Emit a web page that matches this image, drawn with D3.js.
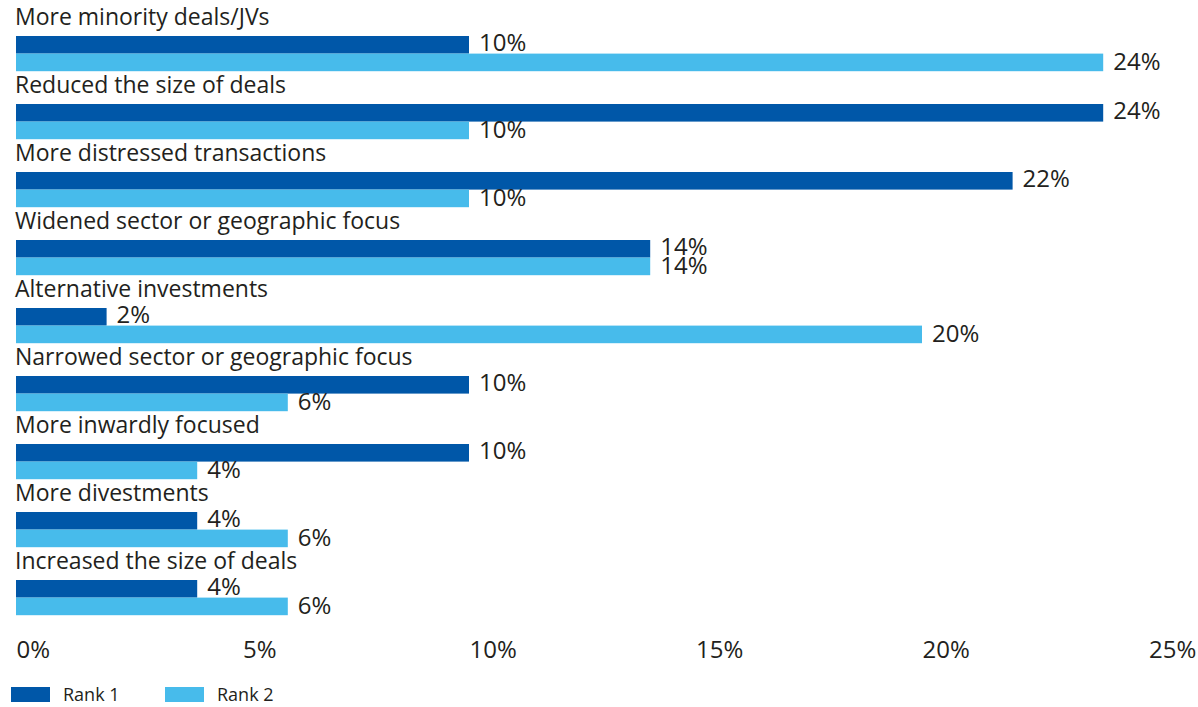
<!DOCTYPE html>
<html>
<head>
<meta charset="utf-8">
<script src="https://cdn.jsdelivr.net/npm/d3@7"></script>
<style>
  html, body { margin: 0; padding: 0; background: #ffffff; }
  svg text { font-family: "Open Sans", "Noto Sans", sans-serif; fill: #231f20; }
</style>
</head>
<body>
<svg id="chart" width="1198" height="707"></svg>
<script>
const categories = [
  "More minority deals/JVs",
  "Reduced the size of deals",
  "More distressed transactions",
  "Widened sector or geographic focus",
  "Alternative investments",
  "Narrowed sector or geographic focus",
  "More inwardly focused",
  "More divestments",
  "Increased the size of deals"
];
const rank1 = [10, 24, 22, 14, 2, 10, 10, 4, 4];
const rank2 = [24, 10, 10, 14, 20, 6, 4, 6, 6];
const seriesNames = ["Rank 1", "Rank 2"];
const tickValues = [0, 5, 10, 15, 20, 25];

const colors = ["#0057a8", "#47bbeb"];
const svg = d3.select("#chart");

const x = d3.scaleLinear().domain([0, 25]).range([16, 1148.5]);
const yGroup = d3.scaleBand().domain(categories).range([36, 36 + 68 * categories.length]).paddingInner(0).paddingOuter(0);
const barH = 17.6;

const rows = categories.map((c, i) => ({ cat: c, vals: [rank1[i], rank2[i]] }));

const g = svg.selectAll("g.grp").data(rows).enter().append("g").attr("class", "grp")
  .attr("transform", d => `translate(0,${yGroup(d.cat)})`);

g.append("text")
  .attr("x", 15)
  .attr("y", -11)
  .attr("font-size", 23)
  .text(d => d.cat);

g.selectAll("rect").data(d => d.vals).enter().append("rect")
  .attr("x", x(0))
  .attr("y", (v, j) => j * barH)
  .attr("width", v => x(v) - x(0))
  .attr("height", barH)
  .attr("fill", (v, j) => colors[j]);

g.selectAll("text.val").data(d => d.vals).enter().append("text")
  .attr("class", "val")
  .attr("x", v => x(v) + 10)
  .attr("y", (v, j) => (j + 1) * barH - (j === 0 ? 2.5 : 1))
  .attr("font-size", 24)
  .text(v => v + "%");

// x axis
const axis = d3.axisBottom(x).tickValues(tickValues).tickSize(0).tickFormat(d => d + "%");
const ax = svg.append("g").attr("transform", "translate(0,640)").call(axis);
ax.select(".domain").remove();
ax.selectAll("text")
  .attr("text-anchor", "start")
  .attr("dx", 0)
  .attr("y", 17.5)
  .attr("dy", 0)
  .attr("font-size", 24)
  .style("font-family", '"Open Sans", "Noto Sans", sans-serif')
  .attr("fill", "#231f20");

// legend
const leg = svg.append("g").attr("transform", "translate(11,687)");
const li = leg.selectAll("g").data(seriesNames).enter().append("g")
  .attr("transform", (d, i) => `translate(${i * 154},0)`);
li.append("rect").attr("width", 39).attr("height", 15).attr("fill", (d, i) => colors[i]);
li.append("text").attr("x", 52).attr("y", 14).attr("font-size", 18).text(d => d);
</script>
</body>
</html>
